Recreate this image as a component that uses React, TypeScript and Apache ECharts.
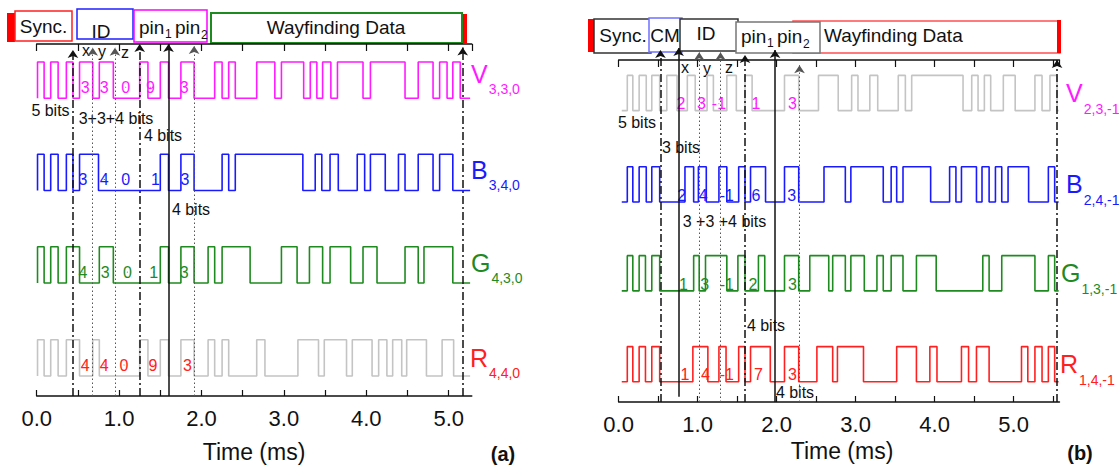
import { useEffect, useRef } from 'react';
import * as echarts from 'echarts';

const FONT = '"Liberation Sans", Arial, Helvetica, sans-serif';

// ---------------- Panel (a) ----------------
// transition times (ms); each waveform starts low and every edge toggles the level
const aEdgesV = [0.01, 0.09, 0.17, 0.26, 0.36, 0.44, 0.52, 0.68, 0.76, 0.93, 1.25, 1.35, 1.5, 1.6, 1.75, 1.91, 2.16, 2.25, 2.33, 2.41, 2.67, 2.89, 2.97, 3.24, 3.32, 3.4, 3.47, 3.57, 3.65, 3.96, 4.05, 4.47, 4.63, 4.81, 4.89, 4.98, 5.05, 5.14];
const aEdgesB = [0.01, 0.09, 0.17, 0.26, 0.36, 0.44, 0.52, 0.75, 1.5, 1.6, 1.75, 1.91, 2.25, 2.33, 2.41, 3.23, 3.38, 3.46, 3.56, 3.66, 3.89, 3.98, 4.05, 4.23, 4.39, 4.47, 4.63, 4.81, 4.89, 5.05];
const aEdgesG = [0.01, 0.09, 0.17, 0.26, 0.36, 0.52, 0.76, 0.93, 1.5, 1.6, 1.75, 1.91, 2.08, 2.16, 2.25, 2.59, 2.97, 3.16, 3.31, 3.47, 3.56, 3.81, 3.96, 4.13, 4.47, 4.63, 4.7, 5.05];
const aEdgesR = [0.01, 0.09, 0.17, 0.26, 0.36, 0.52, 0.68, 0.76, 1.25, 1.35, 1.5, 1.6, 1.75, 1.91, 2.08, 2.16, 2.25, 2.33, 2.67, 2.77, 3.17, 3.42, 3.49, 3.76, 3.83, 4.07, 4.15, 4.25, 4.32, 4.43, 4.49, 4.73, 4.92, 5.06];
const aStart = 0.01;
const aEnd = 5.26;
const aMax = 5.28;
const aLows = [8.46, 5.84, 3.21, 0.57]; // V, B, G, R baselines
const aDigitText = [
  ['3', '3', '0', '9', '3'],
  ['3', '4', '0', '1', '3'],
  ['4', '3', '0', '1', '3'],
  ['4', '4', '0', '9', '3'],
];
const aDigitTime = [
  [0.59, 0.82, 1.08, 1.38, 1.79],
  [0.56, 0.82, 1.08, 1.44, 1.8],
  [0.56, 0.83, 1.1, 1.42, 1.79],
  [0.59, 0.82, 1.06, 1.41, 1.83],
];
const aMarkT = [0.44, 0.68, 0.95, 1.25, 1.6, 1.91, 5.17];
const aMarkStyle = ['dashdot', 'dot', 'dot', 'dashdot', 'solid', 'dot', 'dashdot'];
const aMarkTop = [9.83, 9.89, 9.89, 10, 10, 9.94, 9.9];
const aMarkBottom = [0, 0, 0, 0, 0, 0, 0];
const aNames = ['V', 'B', 'G', 'R'];
const aSubs = ['3,3,0', '3,4,0', '4,3,0', '4,4,0'];

// ---------------- Panel (b) ----------------
const bEdgesV = [0.11, 0.18, 0.26, 0.35, 0.42, 0.52, 0.61, 0.74, 0.87, 0.97, 1.12, 1.2, 1.37, 1.49, 1.6, 1.69, 2.1, 2.28, 2.53, 2.78, 2.95, 3.03, 3.18, 3.28, 3.54, 3.63, 3.71, 4.36, 4.47, 4.55, 4.63, 4.71, 4.87, 5.02, 5.27, 5.36, 5.46, 5.55];
const bEdgesB = [0.11, 0.18, 0.26, 0.35, 0.42, 0.52, 0.84, 0.95, 1.01, 1.11, 1.27, 1.37, 1.52, 1.6, 1.67, 1.86, 2.1, 2.28, 2.6, 2.87, 2.94, 3.35, 3.45, 3.52, 3.6, 3.95, 4.19, 4.27, 4.34, 4.53, 4.6, 4.69, 4.77, 4.85, 4.93, 5.19, 5.44, 5.52];
const bEdgesG = [0.11, 0.18, 0.26, 0.34, 0.42, 0.52, 0.95, 1.02, 1.1, 1.37, 1.51, 1.6, 1.77, 1.85, 2.1, 2.28, 2.42, 2.66, 2.71, 2.87, 2.94, 3.11, 3.27, 3.35, 3.45, 3.6, 3.77, 4.02, 4.61, 4.69, 4.85, 5.27, 5.44, 5.52];
const bEdgesR = [0.11, 0.18, 0.26, 0.34, 0.42, 0.52, 0.94, 1.13, 1.27, 1.36, 1.52, 1.6, 1.67, 1.92, 2.1, 2.28, 2.51, 2.71, 2.77, 3.1, 3.52, 3.77, 3.94, 4.03, 4.34, 4.43, 4.53, 4.69, 5.1, 5.18, 5.27, 5.36, 5.44, 5.52];
const bStart = 0.04;
const bEnd = 5.57;
const bMax = 5.58;
const bLows = [8.52, 5.85, 3.25, 0.59];
const bDigitText = [
  ['2', '3', '-1', '1', '3'],
  ['2', '4', '-1', '6', '3'],
  ['1', '3', '-1', '2', '3'],
  ['1', '4', '-1', '7', '3'],
];
const bDigitTime = [
  [0.79, 1.05, 1.27, 1.74, 2.2],
  [0.8, 1.07, 1.37, 1.74, 2.19],
  [0.82, 1.09, 1.37, 1.7, 2.2],
  [0.84, 1.1, 1.37, 1.77, 2.2],
];
const bMarkT = [0.53, 0.76, 1.02, 1.29, 1.6, 1.98, 2.29, 5.55];
const bMarkStyle = ['dashdot', 'solid', 'dot', 'dot', 'dashdot', 'solid', 'dot', 'dashdot'];
const bMarkTop = [10.29, 10.35, 10.23, 10.23, 10.15, 10.29, 9.85, 10.0];
const bMarkBottom = [0, 0.15, 0, 0, 0, 0, 0, 0];
const bNames = ['V', 'B', 'G', 'R'];
const bSubs = ['2,3,-1', '2,4,-1', '1,3,-1', '1,4,-1'];

const AMP = 1.03;
const MAGENTA = '#ff1aff';
const BLUE = '#1a1aff';
const GREEN = '#1f8a1f';
const RED = '#ff2020';
const GRAY = '#c4c4c4';
const labelColors = [MAGENTA, BLUE, GREEN, RED];
const aWaveColors = [MAGENTA, BLUE, GREEN, GRAY];
const bWaveColors = [GRAY, BLUE, GREEN, RED];

function wave(edges: number[], start: number, end: number, low: number) {
  const pts: number[][] = [[start, low]];
  let lvl = low;
  for (const e of edges) {
    pts.push([e, lvl]);
    lvl = lvl === low ? low + AMP : low;
    pts.push([e, lvl]);
  }
  pts.push([end, lvl]);
  return pts;
}

const lineType = (s: string): any =>
  s === 'dashdot' ? [8, 3, 2, 3] : s === 'dot' ? [1.5, 2.5] : 'solid';

function markLines(ts: number[], styles: string[], tops: number[], bottoms: number[]) {
  return ts.map((t, i) => [
    {
      coord: [t, bottoms[i]],
      lineStyle: {
        type: lineType(styles[i]),
        width: styles[i] === 'dot' ? 1 : 1.5,
        color: styles[i] === 'dot' ? '#555' : '#111',
      },
    },
    { coord: [t, tops[i]] },
  ]);
}

function panelSeries(
  idx: number,
  edges: number[][],
  start: number,
  end: number,
  lows: number[],
  colors: string[],
  digitText: string[][],
  digitTime: number[][],
  digitOff: number,
  mk: any[]
) {
  const out: any[] = [];
  edges.forEach((e, c) => {
    out.push({
      type: 'line',
      xAxisIndex: idx * 2,
      yAxisIndex: idx,
      data: wave(e, start, end, lows[c]),
      showSymbol: false,
      symbol: 'none',
      silent: true,
      lineStyle: { color: colors[c], width: 1.6 },
      z: 2,
      markLine:
        c === 0
          ? {
              silent: true,
              symbol: ['none', 'arrow'],
              symbolSize: 8,
              label: { show: false },
              emphasis: { disabled: true },
              animation: false,
              data: mk,
            }
          : undefined,
    });
    out.push({
      type: 'scatter',
      xAxisIndex: idx * 2,
      yAxisIndex: idx,
      silent: true,
      symbolSize: 1,
      itemStyle: { color: labelColors[c], opacity: 1 },
      data: digitTime[c].map((t, i) => [t, lows[c] + digitOff, digitText[c][i]]),
      label: {
        show: true,
        position: 'inside',
        formatter: (p: any) => p.data[2],
        color: labelColors[c],
        opacity: 1,
        textBorderWidth: 0,
        textBorderColor: 'transparent',
        fontSize: 16,
        fontFamily: FONT,
      },
      z: 3,
    });
  });
  return out;
}

const rect = (x: number, y: number, w: number, h: number, stroke: string, fill = '#fff', lw = 1.5) => ({
  type: 'rect',
  silent: true,
  shape: { x, y, width: w, height: h },
  style: { fill, stroke, lineWidth: lw },
});

const txt = (
  x: number,
  y: number,
  text: string,
  size: number,
  color = '#111',
  align = 'center',
  weight = 'normal'
) => ({
  type: 'text',
  silent: true,
  x,
  y,
  style: {
    text,
    fontSize: size,
    fill: color,
    fontFamily: FONT,
    fontWeight: weight,
    textAlign: align,
    align,
    textVerticalAlign: 'middle',
    verticalAlign: 'middle',
  },
});

const letterW: Record<string, number> = { V: 16.7, B: 16.7, G: 19.4, R: 18 };

function seriesLabels(xs: number[], ys: number[], names: string[], subs: string[], subDy: number) {
  const out: any[] = [];
  names.forEach((n, i) => {
    out.push(txt(xs[i], ys[i], n, 25, labelColors[i], 'left'));
    out.push(txt(xs[i] + letterW[n] + 1, ys[i] + subDy, subs[i], 14, labelColors[i], 'left'));
  });
  return out;
}

export default function App() {
  const ref = useRef<HTMLDivElement>(null);
  useEffect(() => {
    if (!ref.current) return;
    const chart = echarts.init(ref.current, undefined, { renderer: 'svg' });

    const bottomAxis = (grid: number, max: number) => ({
      type: 'value',
      gridIndex: grid,
      position: 'bottom',
      min: 0,
      max,
      interval: 0.5,
      axisLine: { show: true, lineStyle: { color: '#111', width: 1.5 } },
      axisTick: { show: true, inside: true, length: 6, lineStyle: { color: '#111', width: 1.2 } },
      axisLabel: {
        show: true,
        margin: 11,
        fontSize: 22,
        color: '#111',
        fontFamily: FONT,
        showMaxLabel: false,
        formatter: (v: number) => (Math.abs(v - Math.round(v)) < 1e-6 ? v.toFixed(1) : ''),
      },
      splitLine: { show: false },
    });
    const topAxis = (grid: number, max: number, offset: number) => ({
      type: 'value',
      gridIndex: grid,
      position: 'top',
      offset,
      min: 0,
      max,
      interval: 0.5,
      axisLine: { show: true, lineStyle: { color: '#111', width: 1.5 } },
      axisTick: { show: true, inside: true, length: 7, lineStyle: { color: '#111', width: 1.2 } },
      axisLabel: { show: false },
      splitLine: { show: false },
    });

    const aMk = markLines(aMarkT, aMarkStyle, aMarkTop, aMarkBottom);
    const bMk = markLines(bMarkT, bMarkStyle, bMarkTop, bMarkBottom);

    const graphics: any[] = [
      // panel (a) header
      rect(7, 13, 8, 29, 'none', '#ff0000', 0),
      rect(15, 11, 57, 30, '#ff2020'),
      rect(77, 9, 56, 30, '#2020ff'),
      rect(134, 10, 73, 32, '#ff00ff'),
      rect(211, 13, 251, 30, '#1f8a1f', '#fff', 2),
      rect(463, 14, 4, 29, 'none', '#ff0000', 0),
      txt(43.5, 26, 'Sync.', 19),
      txt(101, 31, 'ID', 19),
      txt(139, 27, 'pin', 19, '#111', 'left'),
      txt(165, 34, '1', 12, '#111', 'left'),
      txt(175, 27, 'pin', 19, '#111', 'left'),
      txt(201, 35, '2', 12, '#111', 'left'),
      txt(336, 27, 'Wayfinding Data', 19),
      // panel (b) header
      rect(588, 19, 6, 33, 'none', '#ff0000', 0),
      rect(594, 19, 57, 34, '#333'),
      rect(793, 21, 267, 32, '#ff5050'),
      rect(649, 18, 33, 34, '#7070ff'),
      rect(680, 19, 58, 32, '#333'),
      rect(736, 22, 84, 31, '#777'),
      rect(1057, 20, 4, 33, 'none', '#ff0000', 0),
      txt(623, 35, 'Sync.', 19),
      txt(665, 35, 'CM', 19),
      txt(706, 33, 'ID', 19),
      txt(741, 36, 'pin', 19, '#111', 'left'),
      txt(767, 43, '1', 12, '#111', 'left'),
      txt(777, 36, 'pin', 19, '#111', 'left'),
      txt(803, 44, '2', 12, '#111', 'left'),
      txt(824, 35, 'Wayfinding Data', 19, '#111', 'left'),
      // annotations (a)
      txt(86, 50, 'x', 16),
      txt(102, 51, 'y', 16),
      txt(125, 52, 'z', 16),
      txt(50.5, 110, '5 bits', 16),
      txt(116, 118, '3+3+4 bits', 16),
      txt(163, 135, '4 bits', 16),
      txt(191, 209, '4 bits', 16),
      // annotations (b)
      txt(685, 67, 'x', 16),
      txt(707, 68, 'y', 16),
      txt(729, 67, 'z', 16),
      txt(637, 122, '5 bits', 16),
      txt(681, 147, '3 bits', 16),
      txt(724.5, 221, '3 +3 +4 bits', 16),
      txt(766, 325, '4 bits', 16),
      txt(795, 392, '4 bits', 16),
      // axis titles and panel tags
      txt(254, 452, 'Time (ms)', 23),
      txt(842, 451, 'Time (ms)', 23),
      txt(503, 454, '(a)', 20, '#111', 'center', 'bold'),
      txt(1080, 453, '(b)', 20, '#111', 'center', 'bold'),
      ...seriesLabels([471, 471, 471, 470], [74, 170, 263, 358], aNames, aSubs, 15),
      ...seriesLabels([1066, 1066, 1061, 1060], [93, 184, 273, 364], bNames, bSubs, 16),
    ];

    chart.setOption({
      animation: false,
      backgroundColor: '#fff',
      grid: [
        { left: 36.7, top: 44, width: aMax * 82.4, height: 352, containLabel: false, outerBoundsMode: 'none' },
        { left: 618.6, top: 46, width: bMax * 79, height: 356, containLabel: false, outerBoundsMode: 'none' },
      ],
      xAxis: [
        bottomAxis(0, aMax),
        topAxis(0, aMax, 0),
        bottomAxis(1, bMax),
        topAxis(1, bMax, -14),
      ],
      yAxis: [
        { type: 'value', gridIndex: 0, min: 0, max: 10, show: false },
        { type: 'value', gridIndex: 1, min: 0, max: 10.41, show: false },
      ],
      series: [
        ...panelSeries(0, [aEdgesV, aEdgesB, aEdgesG, aEdgesR], aStart, aEnd, aLows, aWaveColors, aDigitText, aDigitTime, 0.31, aMk),
        ...panelSeries(1, [bEdgesV, bEdgesB, bEdgesG, bEdgesR], bStart, bEnd, bLows, bWaveColors, bDigitText, bDigitTime, 0.2, bMk),
      ],
      graphic: { elements: graphics },
    });
    return () => chart.dispose();
  }, []);
  return (
    <div
      ref={ref}
      style={{ position: 'absolute', left: 0, top: 0, width: 1119, height: 466, background: '#fff' }}
    />
  );
}
